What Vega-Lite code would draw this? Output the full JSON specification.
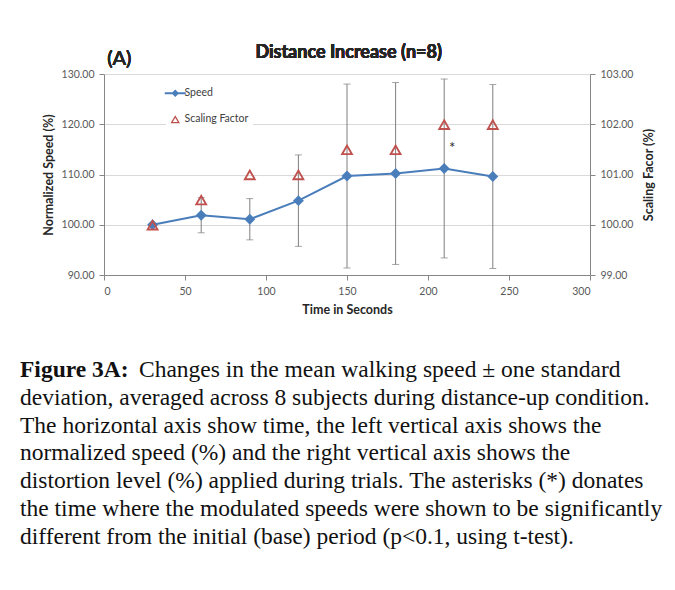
{
  "$schema": "https://vega.github.io/schema/vega-lite/v6.json",
  "padding": {"left": 20, "top": 44, "right": 5, "bottom": 5},
  "background": "white",
  "config": {
    "view": {"stroke": null},
    "font": "Lato",
    "axis": {
      "domainColor": "#868686",
      "tickColor": "#868686",
      "tickSize": 5,
      "labelColor": "#595959",
      "labelFont": "Lato",
      "labelFontSize": 10.5,
      "titleFont": "Lato",
      "titleFontSize": 12.5,
      "titleFontWeight": "bold",
      "titleColor": "#262626",
      "gridColor": "#d9d9d9"
    },
    "legend": {
      "title": null,
      "orient": "none",
      "legendX": 62,
      "legendY": 10,
      "fillColor": "white",
      "padding": 4,
      "symbolSize": 441,
      "rowPadding": 15,
      "labelOffset": 4,
      "labelFont": "Lato",
      "labelFontSize": 10.5,
      "labelColor": "#404040",
      "symbolStrokeWidth": 0
    }
  },
  "datasets": {
    "speed": [
      {"t": 30, "speed": 100.0, "sd": 0.0, "scale": 100.0, "sig": ""},
      {"t": 60, "speed": 101.9, "sd": 3.5, "scale": 100.5, "sig": ""},
      {"t": 90, "speed": 101.1, "sd": 4.1, "scale": 101.0, "sig": ""},
      {"t": 120, "speed": 104.8, "sd": 9.1, "scale": 101.0, "sig": ""},
      {"t": 150, "speed": 109.7, "sd": 18.3, "scale": 101.5, "sig": ""},
      {"t": 180, "speed": 110.2, "sd": 18.1, "scale": 101.5, "sig": ""},
      {"t": 210, "speed": 111.2, "sd": 17.8, "scale": 102.0, "sig": "*"},
      {"t": 240, "speed": 109.6, "sd": 18.3, "scale": 102.0, "sig": ""}
    ],
    "caption": [
      {"line": 1, "part": "label", "text": "Figure 3A:"},
      {"line": 1, "part": "body", "text": "Changes in the mean walking speed ± one standard"},
      {"line": 2, "part": "body", "text": "deviation, averaged across 8 subjects during distance-up condition."},
      {"line": 3, "part": "body", "text": "The horizontal axis show time, the left vertical axis shows the"},
      {"line": 4, "part": "body", "text": "normalized speed (%) and the right vertical axis shows the"},
      {"line": 5, "part": "body", "text": "distortion level (%) applied during trials. The asterisks (*) donates"},
      {"line": 6, "part": "body", "text": "the time where the modulated speeds were shown to be significantly"},
      {"line": 7, "part": "body", "text": "different from the initial (base) period (p<0.1, using t-test)."}
    ]
  },
  "vconcat": [
    {
      "width": 486,
      "height": 201,
      "data": {"name": "speed"},
      "layer": [
        {
          "encoding": {
            "x": {
              "field": "t",
              "type": "quantitative",
              "scale": {"domain": [0, 300], "nice": false},
              "axis": {"values": [0, 50, 100, 150, 200, 250, 300], "title": "Time in Seconds", "grid": false, "labelPadding": 6, "titlePadding": 7}
            }
          },
          "layer": [
            {
              "mark": {"type": "errorbar", "ticks": {"size": 7, "color": "#7f7f7f", "thickness": 1}, "rule": {"color": "#7f7f7f", "strokeWidth": 1}},
              "encoding": {
                "y": {
                  "field": "speed",
                  "type": "quantitative",
                  "scale": {"domain": [90, 130], "nice": false, "zero": false},
                  "axis": {"values": [90, 100, 110, 120, 130], "format": ".2f", "title": "Normalized Speed (%)", "grid": true, "labelPadding": 5, "titlePadding": 6}
                },
                "yError": {"field": "sd"}
              }
            },
            {
              "mark": {"type": "line", "strokeWidth": 2},
              "encoding": {
                "y": {"field": "speed", "type": "quantitative"},
                "color": {
                  "datum": "Speed",
                  "type": "nominal",
                  "scale": {"domain": ["Speed", "Scaling Factor"], "range": ["#4A7EBB", "#C0504D"]},
                  "legend": {
                    "encode": {
                      "symbols": {
                        "update": {
                          "size": {"signal": "datum.value === 'Speed' ? 441 : 90"},
                          "strokeWidth": {"value": 0},
                          "opacity": {"value": 1}
                        }
                      }
                    }
                  }
                }
              }
            },
            {
              "mark": {"type": "point", "shape": "diamond", "filled": true, "size": 120, "opacity": 1},
              "encoding": {
                "y": {"field": "speed", "type": "quantitative"},
                "color": {"datum": "Speed", "type": "nominal"}
              }
            },
            {
              "mark": {"type": "text", "dx": 8, "dy": -20, "fontSize": 15, "font": "Lato", "color": "#262626", "baseline": "middle"},
              "encoding": {
                "y": {"field": "speed", "type": "quantitative"},
                "text": {"field": "sig"}
              }
            },
            {
              "mark": {"type": "text", "align": "left", "baseline": "middle", "fontSize": 20, "font": "Lato", "color": "#262626"},
              "encoding": {
                "x": {"datum": 2},
                "y": {"datum": 133},
                "text": {"value": "(A)"}
              }
            },
            {
              "mark": {"type": "text", "align": "center", "baseline": "middle", "fontSize": 18, "fontWeight": "bold", "font": "Lato", "color": "#262626"},
              "encoding": {
                "x": {"datum": 151},
                "y": {"datum": 134.1},
                "text": {"value": "Distance Increase (n=8)"}
              }
            }
          ]
        },
        {
          "mark": {"type": "point", "filled": true, "size": 170, "strokeWidth": 0, "opacity": 1},
          "encoding": {
            "x": {"field": "t", "type": "quantitative"},
            "y": {
              "field": "scale",
              "type": "quantitative",
              "scale": {"domain": [99, 103], "nice": false, "zero": false},
              "axis": {"orient": "right", "values": [99, 100, 101, 102, 103], "format": ".2f", "title": "Scaling Facor (%)", "grid": false, "titleAngle": 270, "titleBaseline": "top", "labelPadding": 5, "titlePadding": 10}
            },
            "color": {"datum": "Scaling Factor", "type": "nominal"},
            "shape": {
              "datum": "Scaling Factor",
              "type": "nominal",
              "scale": {"domain": ["Speed", "Scaling Factor"], "range": ["M-1,-0.09H1V0.09H-1ZM0,-0.36L0.36,0L0,0.36L-0.36,0Z", "M0,-0.866L1,0.866L-1,0.866ZM0,-0.306L-0.515,0.586L0.515,0.586Z"]},
              "legend": {
                "encode": {
                  "symbols": {
                    "update": {
                      "size": {"signal": "datum.value === 'Speed' ? 441 : 90"},
                      "strokeWidth": {"value": 0},
                      "opacity": {"value": 1}
                    }
                  }
                }
              }
            }
          }
        }
      ],
      "resolve": {"scale": {"y": "independent"}}
    },
    {
      "width": 486,
      "height": {"step": 27.8},
      "data": {"name": "caption"},
      "encoding": {
        "y": {"field": "line", "type": "ordinal", "axis": null},
        "x": {"value": -84}
      },
      "layer": [
        {
          "transform": [{"filter": "datum.part === 'label'"}],
          "mark": {"type": "text", "align": "left", "baseline": "middle", "font": "Liberation Serif", "fontSize": 23.5, "fontWeight": "bold", "color": "#111111"},
          "encoding": {"text": {"field": "text"}}
        },
        {
          "transform": [{"filter": "datum.part === 'body' && datum.line === 1"}],
          "mark": {"type": "text", "align": "left", "baseline": "middle", "font": "Liberation Serif", "fontSize": 23.5, "color": "#111111", "dx": 119},
          "encoding": {"text": {"field": "text"}}
        },
        {
          "transform": [{"filter": "datum.line > 1"}],
          "mark": {"type": "text", "align": "left", "baseline": "middle", "font": "Liberation Serif", "fontSize": 23.5, "color": "#111111"},
          "encoding": {"text": {"field": "text"}}
        }
      ]
    }
  ],
  "spacing": 40
}
